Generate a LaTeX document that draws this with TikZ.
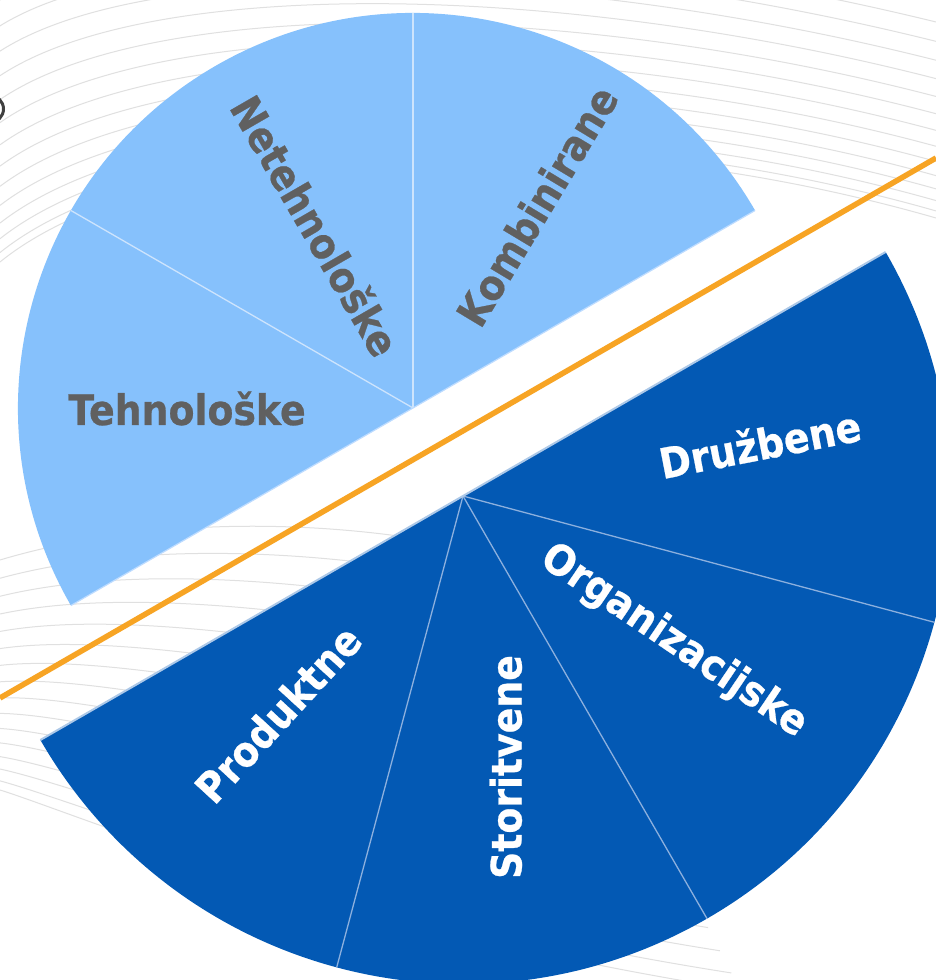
\documentclass[tikz,border=0pt]{standalone}
\usepackage{fontspec}
\usetikzlibrary{calc}
\newfontfamily\labfont[FakeStretch=0.9,FakeBold=0.6]{DejaVu Sans}
\definecolor{lblue}{RGB}{134,193,252}
\definecolor{dblue}{RGB}{3,89,180}
\definecolor{tgray}{RGB}{96,96,96}
\definecolor{orng}{RGB}{247,164,36}
\definecolor{bgline}{RGB}{224,224,224}
\definecolor{ldiv}{RGB}{205,228,252}
\definecolor{ddiv}{RGB}{140,176,222}
\definecolor{dedge}{RGB}{172,200,232}
\definecolor{ledge}{RGB}{190,220,255}
\begin{document}
\begin{tikzpicture}[x=1pt,y=1pt,
  lab/.style={font=\labfont\bfseries\fontsize{42}{50}\selectfont, inner sep=0pt,
              text height=31pt, text depth=0pt, anchor=center},
  graylab/.style={lab, text=tgray},
  whitelab/.style={lab, text=white},
  bgcurve/.style={draw=bgline, line width=1pt},
  ldivider/.style={draw=ldiv, line width=1.3pt},
  ddivider/.style={draw=ddiv, line width=1.3pt},
  orangeline/.style={draw=orng, line width=5.5pt}]
\useasboundingbox (0,0) rectangle (936,980);
\clip (0,0) rectangle (936,980);
\fill[white] (0,0) rectangle (936,980);

% background swirl lines (top family)
\foreach \i in {0,...,13}{
  \pgfmathsetmacro{\s}{(\i/13)^1.3}
  \pgfmathsetmacro{\ya}{980-(262-262*\s)}
  \pgfmathsetmacro{\yb}{980-(140-230*\s)}
  \pgfmathsetmacro{\yc}{980-(110-180*\s)}
  \pgfmathsetmacro{\yd}{980-(218-196*\s)}
  \draw[bgcurve] (0,\ya) .. controls (150,\yb) and (560,\yc) .. (936,\yd);
}
% background swirl lines (bottom family)
\foreach \i in {0,...,15}{
  \pgfmathsetmacro{\s}{(\i/15)^1.2}
  \pgfmathsetmacro{\ya}{980-(790-230*\s)}
  \pgfmathsetmacro{\xb}{80+70*\s}
  \pgfmathsetmacro{\yb}{980-(815-300*\s)}
  \pgfmathsetmacro{\xc}{350}
  \pgfmathsetmacro{\yc}{980-(930-415*\s)}
  \pgfmathsetmacro{\xd}{740-220*\s}
  \pgfmathsetmacro{\yd}{980-(990-430*\s)}
  \draw[bgcurve] (0,\ya) .. controls (\xb,\yb) and (\xc,\yc) .. (\xd,\yd);
}
% partial dark mark at left edge
\draw[draw=black!75, line width=3pt] (-10,871) circle (13.5);

% centres
\coordinate (L) at (413,572);
\coordinate (D) at (463,484);

% light half-disc
\fill[lblue] (L) -- ++(30:395) arc[start angle=30, end angle=210, radius=395] -- cycle;
\draw[ldivider] (L) -- ++(90:395);
\draw[ldivider] (L) -- ++(150:395);
\draw[draw=ledge, line width=1.2pt] ($(L)+(30:395)$) -- ($(L)+(210:395)$);

% dark half-disc
\fill[dblue] (D) -- ++(30:488) arc[start angle=30, end angle=-150, radius=488] -- cycle;
\draw[ddivider] (D) -- ++(-15:488);
\draw[ddivider] (D) -- ++(-60:488);
\draw[ddivider] (D) -- ++(-105:488);
\draw[draw=dedge, line width=2pt] ($(D)+(30:488)$) -- ($(D)+(210:488)$);

% orange divider line
\coordinate (o1) at (0,282);
\coordinate (o2) at (936,822);
\draw[orangeline] (o1) -- (o2);

% labels
\node[graylab] (tehn) at (187,570.5) {Tehnološke};
\node[graylab, rotate=-60] (neteh) at (315,754) {Netehnološke};
\node[graylab, rotate=59] (komb) at (537,774) {Kombinirane};
\node[whitelab, rotate=11] (druz) at (760,535.5) {Družbene};
\node[whitelab, rotate=-34] (org) at (676,342) {Organizacijske};
\node[whitelab, rotate=90] (stor) at (506,213) {Storitvene};
\node[whitelab, rotate=47.5] (prod) at (278,266) {Produktne};
\end{tikzpicture}
\end{document}
